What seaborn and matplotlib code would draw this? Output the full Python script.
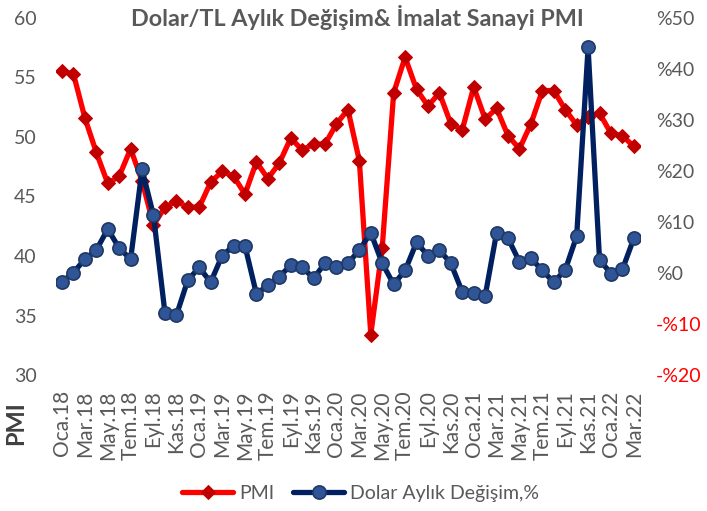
import numpy as np
import pandas as pd
import matplotlib
matplotlib.use("Agg")
import matplotlib.pyplot as plt
import seaborn as sns

months_tr = ["Oca", "Şub", "Mar", "Nis", "May", "Haz", "Tem", "Ağu", "Eyl", "Eki", "Kas", "Ara"]
dates = [f"{months_tr[m]}.{y}" for y in range(18, 23) for m in range(12)][:51]

pmi = [55.5, 55.3, 51.6, 48.7, 46.1, 46.7, 49.0, 46.3, 42.6, 44.1, 44.6, 44.1,
       44.1, 46.2, 47.1, 46.7, 45.2, 47.9, 46.5, 47.8, 49.9, 48.9, 49.4, 49.4,
       51.1, 52.3, 48.0, 33.4, 40.7, 53.7, 56.7, 54.0, 52.6, 53.7, 51.1, 50.6,
       54.2, 51.5, 52.4, 50.1, 49.0, 51.1, 53.9, 53.9, 52.3, 51.0, 51.7, 52.0,
       50.3, 50.1, 49.2]

dolar = [-1.8, 0.1, 2.7, 4.5, 8.6, 4.9, 2.7, 20.3, 11.3, -7.8, -8.3, -1.4,
         1.1, -1.8, 3.4, 5.3, 5.3, -4.1, -2.4, -0.7, 1.5, 1.1, -1.0, 1.9,
         1.1, 1.9, 4.5, 7.9, 1.9, -2.2, 0.5, 6.0, 3.4, 4.5, 1.9, -3.7,
         -3.9, -4.5, 7.9, 6.8, 2.2, 2.9, 0.5, -1.8, 0.6, 7.2, 44.2, 2.6,
         -0.1, 0.7, 6.8]

df = pd.DataFrame({"idx": np.arange(len(dates)), "tarih": dates, "PMI": pmi, "Dolar": dolar})

sns.set_theme(style="white")
plt.rcParams["font.family"] = ["Lato", "DejaVu Sans"]

gray = "#595959"
fig = plt.figure(figsize=(7.07, 5.11), dpi=100)
ax = fig.add_axes([0.0796, 0.266, 0.825, 0.699])
ax2 = ax.twinx()

sns.lineplot(data=df, x="idx", y="PMI", ax=ax, color="#FF0000", linewidth=3.8,
             marker="D", markersize=7.5, markerfacecolor="#C00000",
             markeredgecolor="#C00000", label="PMI", legend=False)
sns.lineplot(data=df, x="idx", y="Dolar", ax=ax2, color="#002060", linewidth=3.8,
             marker="o", markersize=9.5, markerfacecolor="#2F5597",
             markeredgecolor="#1F3864", markeredgewidth=1.2,
             label="Dolar Aylık Değişim,%", legend=False)

ax.set_xlim(-0.5, 50.5)
ax.set_ylim(30, 60)
ax2.set_ylim(-20, 50)
ax.set_yticks([30, 35, 40, 45, 50, 55, 60])
rt = [-20, -10, 0, 10, 20, 30, 40, 50]
ax2.set_yticks(rt)
ax2.set_yticklabels([("-%" + str(-v)) if v < 0 else ("%" + str(v)) for v in rt])

ticks = list(range(0, len(dates), 2))
ax.set_xticks(ticks)
ax.set_xticklabels([dates[i] for i in ticks], rotation=90)

for a in (ax, ax2):
    for s in a.spines.values():
        s.set_visible(False)
    a.tick_params(length=0, labelsize=14, labelcolor=gray, pad=4)
    a.grid(False)
    a.set_xlabel("")
    a.set_ylabel("")
for lab, v in zip(ax2.get_yticklabels(), rt):
    lab.set_color("#FF0000" if v < 0 else gray)
ax.tick_params(axis="x", labelsize=15, pad=11)
ax.tick_params(axis="y", pad=14)
ax2.tick_params(axis="y", pad=12)

fig.text(0.505, 0.965, "Dolar/TL Aylık Değişim& İmalat Sanayi PMI", ha="center", va="center",
         fontsize=16.8, fontweight="bold", color=gray)
fig.text(0.022, 0.172, "PMI", rotation=90, ha="center", va="center",
         fontsize=17, fontweight="bold", color="#404040")

h1, l1 = ax.get_legend_handles_labels()
h2, l2 = ax2.get_legend_handles_labels()
fig.legend(h1 + h2, l1 + l2, loc="center", bbox_to_anchor=(0.51, 0.035), ncol=2,
           frameon=False, fontsize=14, labelcolor=gray, handlelength=2.6,
           columnspacing=1.0, handletextpad=0.3)

fig.savefig("out.png", dpi=100)
